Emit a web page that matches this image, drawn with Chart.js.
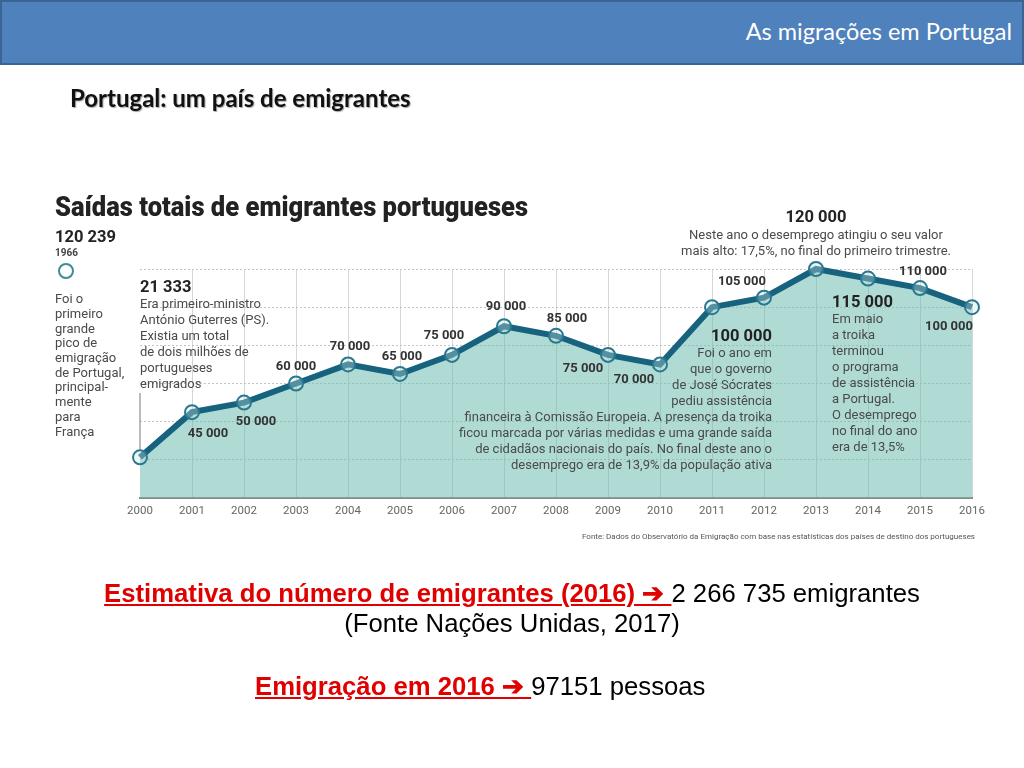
<!DOCTYPE html>
<html>
<head>
<meta charset="utf-8">
<script src="https://cdn.jsdelivr.net/npm/chart.js@4.4.0/dist/chart.umd.min.js"></script>
<style>
  body { margin:0; width:1024px; height:768px; overflow:hidden; background:#fff; position:relative; font-family:Lato, sans-serif; }
  #chart { position:absolute; left:0; top:0; }
  #header { position:absolute; left:0; top:0; width:1024px; height:65px; box-sizing:border-box; background:#4f81bd; border:2px solid #3a6494; }
  #header span { position:absolute; right:10px; top:15px; color:#fff; font-size:23.5px; }
  #slideTitle { position:absolute; left:70px; top:83px; font-weight:bold; font-size:24px; color:#111; text-shadow:1px 1px 1px rgba(0,0,0,.35); }
  .line { position:absolute; font-family:"Liberation Sans", Arial, sans-serif; font-size:25.7px; line-height:30px; color:#000; white-space:nowrap; }
  .red { color:#e00000; font-weight:bold; text-decoration:underline; }
</style>
</head>
<body>
<canvas id="chart" width="1024" height="768"></canvas>
<div id="header"><span>As migrações em Portugal</span></div>
<div id="slideTitle">Portugal: um país de emigrantes</div>
<div class="line" style="left:0;width:1024px;text-align:center;top:578px"><span class="red">Estimativa do número de emigrantes (2016) ➔ </span>2 266 735 emigrantes</div>
<div class="line" style="left:0;width:1024px;text-align:center;top:608px">(Fonte Nações Unidas, 2017)</div>
<div class="line" style="left:255px;top:671px"><span class="red">Emigração em 2016 ➔ </span>97151 pessoas</div>

<script>
// dados do gráfico
const years = ['2000','2001','2002','2003','2004','2005','2006','2007','2008','2009','2010','2011','2012','2013','2014','2015','2016'];
const emigrants = [21333, 45000, 50000, 60000, 70000, 65000, 75000, 90000, 85000, 75000, 70000, 100000, 105000, 120000, 115000, 110000, 100000];

const peakValue = 120239;
const peakYear = '1966';

const peakNote = ['Foi o', 'primeiro', 'grande', 'pico de', 'emigração', 'de Portugal,', 'principal-', 'mente', 'para', 'França'];
const note2000 = ['Era primeiro-ministro', 'António Guterres (PS).', 'Existia um total', 'de dois milhões de', 'portugueses', 'emigrados'];
const note2011 = ['Foi o ano em', 'que o governo', 'de José Sócrates', 'pediu assistência',
  'financeira à Comissão Europeia. A presença da troika', 'ficou marcada por várias medidas e uma grande saída',
  'de cidadãos nacionais do país. No final deste ano o', 'desemprego era de 13,9% da população ativa'];
const note2013 = ['Neste ano o desemprego atingiu o seu valor', 'mais alto: 17,5%, no final do primeiro trimestre.'];
const note2014 = ['Em maio', 'a troika', 'terminou', 'o programa', 'de assistência', 'a Portugal.', 'O desemprego', 'no final do ano', 'era de 13,5%'];

const chartTitle = 'Saídas totais de emigrantes portugueses';
const sourceText = 'Fonte: Dados do Observatório da Emigração com base nas estatísticas dos países de destino dos portugueses';

// posição de cada rótulo em relação ao ponto (null = bloco de texto próprio)
const labelOffsets = [null, [16,22], [12,19], [0,-17], [2,-18], [2,-17], [-8,-19], [2,-20], [11,-17],
  [-25,14], [-26,15], null, [-22,-16], null, null, [3,-16], [-23,20]];

const TEAL = '#17637f';
const FONT = 'Roboto, "Noto Sans", sans-serif';

function fmt(n) {
  return String(n).replace(/\B(?=(\d{3})+(?!\d))/g, ' ');
}

function text(ctx, str, x, y, size, opts) {
  opts = opts || {};
  ctx.font = (opts.weight || 'normal') + ' ' + size + 'px ' + FONT;
  ctx.fillStyle = opts.color || '#4a4a4a';
  ctx.textAlign = opts.align || 'left';
  ctx.textBaseline = 'middle';
  if (opts.maxWidth) ctx.fillText(str, x, y, opts.maxWidth);
  else ctx.fillText(str, x, y);
}

function lines(ctx, arr, x, y0, step, align) {
  arr.forEach((s, i) => text(ctx, s, x, y0 + i * step, 13, {align: align}));
}

const notesPlugin = {
  id: 'notes',
  afterDatasetsDraw(chart) {
    const ctx = chart.ctx;
    const xs = chart.scales.x, ys = chart.scales.y;
    const px = i => xs.getPixelForValue(i);
    const py = i => ys.getPixelForValue(emigrants[i]);
    ctx.save();

    text(ctx, chartTitle, 55, 209, 27, {weight: '900', color: '#222', maxWidth: 473});

    // pico de 1966
    text(ctx, fmt(peakValue), 55, 238, 16.5, {weight: 'bold', color: '#222'});
    text(ctx, peakYear, 55, 253, 10, {weight: 'bold', color: '#444'});
    ctx.beginPath();
    ctx.arc(66, 271, 7, 0, Math.PI * 2);
    ctx.lineWidth = 2;
    ctx.strokeStyle = '#3d8d96';
    ctx.stroke();
    lines(ctx, peakNote, 55, 300, 14.7, 'left');

    // 2000
    text(ctx, fmt(emigrants[0]), px(0), 288, 16.5, {weight: 'bold', color: '#222'});
    lines(ctx, note2000, px(0), 305, 16, 'left');
    ctx.beginPath();
    ctx.moveTo(px(0), 393);
    ctx.lineTo(px(0), py(0) - 7);
    ctx.lineWidth = 1;
    ctx.strokeStyle = '#777';
    ctx.stroke();

    // rótulos simples
    labelOffsets.forEach((o, i) => {
      if (!o) return;
      text(ctx, fmt(emigrants[i]), px(i) + o[0], py(i) + o[1], 13, {weight: 'bold', color: '#333', align: 'center'});
    });

    // 2011
    text(ctx, fmt(emigrants[11]), 772, 337, 16.5, {weight: 'bold', color: '#222', align: 'right'});
    lines(ctx, note2011, 772, 354, 16, 'right');

    // 2013
    text(ctx, fmt(emigrants[13]), px(13), 218, 16.5, {weight: 'bold', color: '#222', align: 'center'});
    lines(ctx, note2013, px(13), 236, 16, 'center');

    // 2014
    text(ctx, fmt(emigrants[14]), 832, 303, 16.5, {weight: 'bold', color: '#222'});
    lines(ctx, note2014, 832, 320, 16, 'left');

    text(ctx, sourceText, 975, 537, 8, {color: '#555', align: 'right', maxWidth: 435});
    ctx.restore();
  }
};

new Chart(document.getElementById('chart'), {
  type: 'line',
  data: {
    labels: years,
    datasets: [{
      data: emigrants,
      borderColor: TEAL,
      borderWidth: 6,
      fill: 'origin',
      backgroundColor: 'rgba(112,190,176,0.55)',
      pointRadius: 7,
      pointBorderWidth: 2,
      pointBorderColor: '#2a7890',
      pointBackgroundColor: 'rgba(200,230,226,0.35)',
      tension: 0,
      clip: false
    }]
  },
  options: {
    responsive: false,
    animation: false,
    devicePixelRatio: 1,
    layout: { padding: { left: 140, right: 52, top: 269, bottom: 250 } },
    plugins: { legend: { display: false }, tooltip: { enabled: false } },
    scales: {
      x: {
        offset: false,
        afterFit: s => { s.height = 20; },
        grid: { drawTicks: false, color: c => c.index === 0 ? 'rgba(0,0,0,0)' : '#d6d6d6', lineWidth: 1 },
        border: { color: '#8a8a8a', width: 2 },
        ticks: { padding: 6, color: '#666', font: { family: FONT, size: 11.5 } }
      },
      y: {
        min: 0,
        max: 120000,
        afterFit: s => { s.width = 0; },
        ticks: { display: false, stepSize: 20000 },
        grid: { drawTicks: false, color: '#c4c4c4', lineWidth: 1 },
        border: { display: false, dash: [2, 2] }
      }
    }
  },
  plugins: [notesPlugin]
});
</script>
</body>
</html>
